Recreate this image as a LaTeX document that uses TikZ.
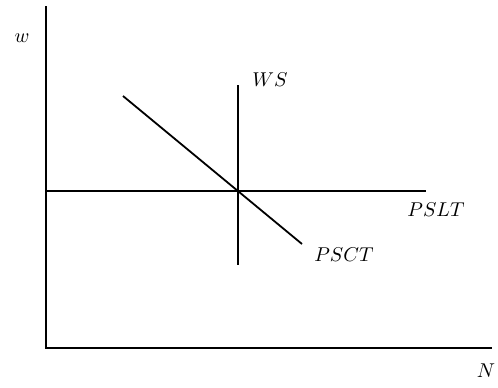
\documentclass[tikz,border=0pt]{standalone}
\begin{document}
\begin{tikzpicture}[x=0.5pt,y=-0.5pt,
  curve/.style={line width=0.9pt,line cap=butt},
  lbl/.style={inner sep=0pt,anchor=center}]
\useasboundingbox (0,0) rectangle (498,387);
% axes
\coordinate (top) at (46,6);
\coordinate (origin) at (46,348);
\coordinate (right) at (492,348);
\draw[curve] (top) -- (origin) -- (right);
% PSLT
\coordinate (lA) at (46,191);
\coordinate (lB) at (426,191);
\draw[curve] (lA) -- (lB);
% WS
\coordinate (wA) at (238,85);
\coordinate (wB) at (238,265);
\draw[curve] (wA) -- (wB);
% PSCT
\coordinate (cA) at (123,96);
\coordinate (cB) at (302,244);
\draw[curve] (cA) -- (cB);
% labels
\node[lbl] (w) at (22,38) {$w$};
\node[lbl] (N) at (486,371) {$N$};
\node[lbl] (WS) at (270,80) {$WS$};
\node[lbl] (PSLT) at (436,210) {$PSLT$};
\node[lbl] (PSCT) at (344,255) {$PSCT$};
\end{tikzpicture}
\end{document}
